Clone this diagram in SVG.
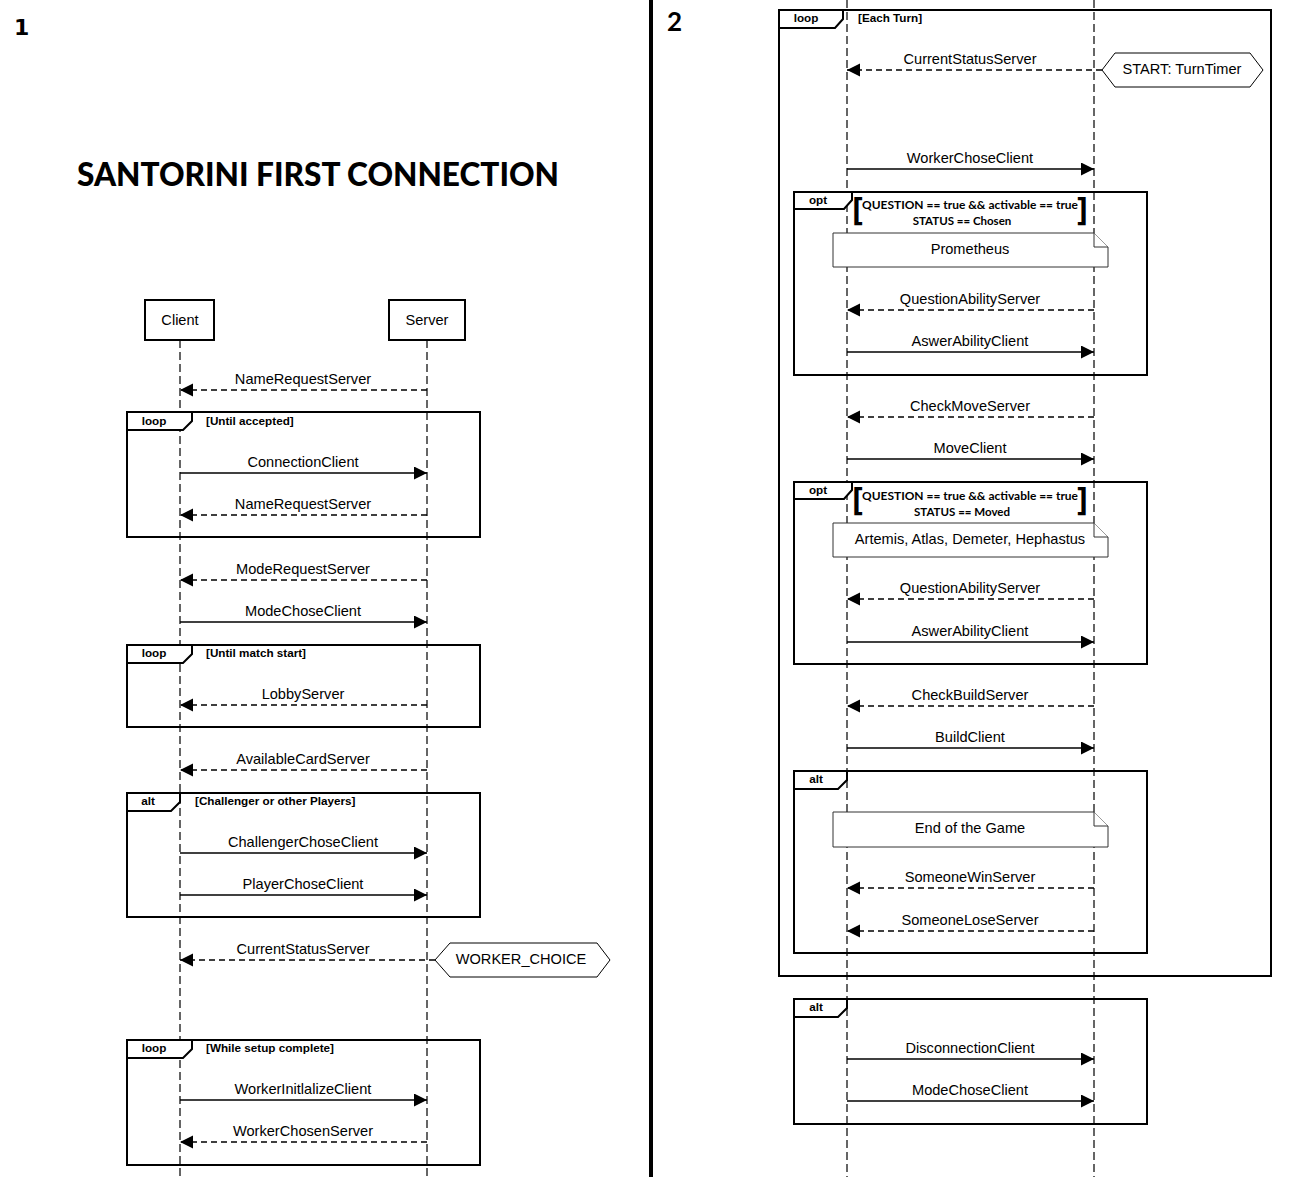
<svg xmlns="http://www.w3.org/2000/svg" width="1300" height="1177" viewBox="0 0 1300 1177">
<style>
.bg{fill:#fff}
.life{stroke:#333;stroke-width:1.5;stroke-dasharray:8 4;fill:none}
.msg{stroke:#000;stroke-width:1.3;fill:none;marker-end:url(#arr)}
.dash{stroke-dasharray:6 4}
.frame{fill:none;stroke:#000;stroke-width:2}
.tab{fill:#fff;stroke:#000;stroke-width:2}
.part{fill:#fff;stroke:#000;stroke-width:2}
.note{fill:#fff;stroke:#333;stroke-width:1}
.hex{fill:#fff;stroke:#000;stroke-width:1}
.lbl{font-family:"Liberation Sans",Arial,sans-serif;font-size:14.6px;fill:#000;text-anchor:middle}
.tl{font-family:"Liberation Sans",Arial,sans-serif;font-size:11.7px;font-weight:bold;fill:#000;text-anchor:middle}
.cond{font-family:"Liberation Sans",Arial,sans-serif;font-size:11.7px;font-weight:bold;fill:#000}
.q{font-family:Lato,"Open Sans",sans-serif;font-size:11.5px;font-weight:bold;fill:#000;text-anchor:middle}
.br{font-family:"Open Sans",sans-serif;font-size:33px;font-weight:bold;fill:#000}
</style>
<defs>
<marker id="arr" markerUnits="userSpaceOnUse" markerWidth="14" markerHeight="14" refX="13" refY="6.5" orient="auto">
<path d="M0,0 L13,6.5 L0,13 Z" fill="#000" stroke="none"/>
</marker>
</defs>
<rect class="bg" x="0" y="0" width="1300" height="1177"/>

<g id="headings">
<text x="14" y="35" font-family="DejaVu Sans,sans-serif" font-size="22" font-weight="bold">1</text>
<text x="667" y="31" font-family="Lato,'Open Sans',sans-serif" font-size="26" font-weight="bold">2</text>
<text x="77" y="186" font-family="Lato,'Open Sans',sans-serif" font-size="33" font-weight="900" textLength="482" lengthAdjust="spacingAndGlyphs">SANTORINI FIRST CONNECTION</text>
<rect id="separator" x="649" y="0" width="4" height="1177" fill="#000"/>
</g>

<g id="lifelines">
<line class="life" x1="180" y1="340" x2="180" y2="1177"/>
<line class="life" x1="427" y1="340" x2="427" y2="1177"/>
<line class="life" x1="847" y1="0" x2="847" y2="1177"/>
<line class="life" x1="1094" y1="0" x2="1094" y2="1177"/>
</g>

<g id="client">
<rect class="part" x="145" y="300" width="69" height="40"/>
<text class="lbl" x="180" y="325">Client</text>
</g>
<g id="server">
<rect class="part" x="389" y="300" width="76" height="40"/>
<text class="lbl" x="427" y="325">Server</text>
</g>

<g id="frame-loop-accepted">
<rect class="frame" x="127" y="412" width="353" height="125"/>
<path class="tab" d="M127,412 H192 V421 L183,430 H127 Z"/>
<text class="tl" x="154" y="425">loop</text>
<text class="cond" x="206" y="425">[Until accepted]</text>
</g>
<g id="frame-loop-match">
<rect class="frame" x="127" y="645" width="353" height="82"/>
<path class="tab" d="M127,645 H192 V654 L183,663 H127 Z"/>
<text class="tl" x="154" y="657">loop</text>
<text class="cond" x="206" y="657">[Until match start]</text>
</g>
<g id="frame-alt-challenger">
<rect class="frame" x="127" y="793" width="353" height="124"/>
<path class="tab" d="M127,793 H180 V802 L171,811 H127 Z"/>
<text class="tl" x="148" y="805">alt</text>
<text class="cond" x="195" y="805">[Challenger or other Players]</text>
</g>
<g id="hex-worker-choice">
<path class="hex" d="M435,960 L450,943 H597 L610,960 L597,977 H450 Z"/>
<text class="lbl" x="521" y="964">WORKER_CHOICE</text>
</g>
<g id="frame-loop-setup">
<rect class="frame" x="127" y="1040" width="353" height="125"/>
<path class="tab" d="M127,1040 H192 V1049 L183,1058 H127 Z"/>
<text class="tl" x="154" y="1052">loop</text>
<text class="cond" x="206" y="1052">[While setup complete]</text>
</g>

<g id="frame-loop-turn">
<rect class="frame" x="779" y="10" width="492" height="966"/>
<path class="tab" d="M779,10 H843 V19 L835,28 H779 Z"/>
<text class="tl" x="806" y="22">loop</text>
<text class="cond" x="858" y="22">[Each Turn]</text>
</g>
<g id="hex-turn-timer">
<path class="hex" d="M1102,70 L1115,53 H1250 L1263,70 L1250,87 H1115 Z"/>
<text class="lbl" x="1182" y="74">START: TurnTimer</text>
</g>
<g id="frame-opt-chosen">
<rect class="frame" x="794" y="192" width="353" height="183"/>
<path class="tab" d="M794,192 H852 V200 L844,209 H794 Z"/>
<text class="tl" x="818" y="204">opt</text>
<text class="br" x="852" y="220">[</text>
<text class="br" x="1088" y="220" text-anchor="end">]</text>
<text class="q" x="970" y="209" textLength="216" lengthAdjust="spacingAndGlyphs">QUESTION == true &amp;&amp; activable == true</text>
<text class="q" x="962" y="225">STATUS == Chosen</text>
</g>
<g id="note-prometheus">
<path class="note" d="M833,233 H1094 L1108,247 V267 H833 Z"/>
<path class="note" d="M1094,233 V247 H1108" fill="none"/>
<text class="lbl" x="970" y="254">Prometheus</text>
</g>
<g id="frame-opt-moved">
<rect class="frame" x="794" y="482" width="353" height="182"/>
<path class="tab" d="M794,482 H852 V490 L844,499 H794 Z"/>
<text class="tl" x="818" y="494">opt</text>
<text class="br" x="852" y="510">[</text>
<text class="br" x="1088" y="510" text-anchor="end">]</text>
<text class="q" x="970" y="500" textLength="216" lengthAdjust="spacingAndGlyphs">QUESTION == true &amp;&amp; activable == true</text>
<text class="q" x="962" y="516">STATUS == Moved</text>
</g>
<g id="note-gods">
<path class="note" d="M833,523 H1094 L1108,537 V557 H833 Z"/>
<path class="note" d="M1094,523 V537 H1108" fill="none"/>
<text class="lbl" x="970" y="544">Artemis, Atlas, Demeter, Hephastus</text>
</g>
<g id="frame-alt-end">
<rect class="frame" x="794" y="771" width="353" height="182"/>
<path class="tab" d="M794,771 H847 V780 L838,789 H794 Z"/>
<text class="tl" x="816" y="783">alt</text>
</g>
<g id="note-end">
<path class="note" d="M833,812 H1094 L1108,826 V847 H833 Z"/>
<path class="note" d="M1094,812 V826 H1108" fill="none"/>
<text class="lbl" x="970" y="833">End of the Game</text>
</g>
<g id="frame-alt-disconnect">
<rect class="frame" x="794" y="999" width="353" height="125"/>
<path class="tab" d="M794,999 H847 V1008 L838,1017 H794 Z"/>
<text class="tl" x="816" y="1011">alt</text>
</g>

<g id="connectors">
<line class="msg dash" x1="427" y1="390" x2="180" y2="390"/>
<text class="lbl" x="303" y="384">NameRequestServer</text>
<line class="msg" x1="180" y1="473" x2="427" y2="473"/>
<text class="lbl" x="303" y="467">ConnectionClient</text>
<line class="msg dash" x1="427" y1="515" x2="180" y2="515"/>
<text class="lbl" x="303" y="509">NameRequestServer</text>
<line class="msg dash" x1="427" y1="580" x2="180" y2="580"/>
<text class="lbl" x="303" y="574">ModeRequestServer</text>
<line class="msg" x1="180" y1="622" x2="427" y2="622"/>
<text class="lbl" x="303" y="616">ModeChoseClient</text>
<line class="msg dash" x1="427" y1="705" x2="180" y2="705"/>
<text class="lbl" x="303" y="699">LobbyServer</text>
<line class="msg dash" x1="427" y1="770" x2="180" y2="770"/>
<text class="lbl" x="303" y="764">AvailableCardServer</text>
<line class="msg" x1="180" y1="853" x2="427" y2="853"/>
<text class="lbl" x="303" y="847">ChallengerChoseClient</text>
<line class="msg" x1="180" y1="895" x2="427" y2="895"/>
<text class="lbl" x="303" y="889">PlayerChoseClient</text>
<line class="msg dash" x1="435" y1="960" x2="180" y2="960"/>
<text class="lbl" x="303" y="954">CurrentStatusServer</text>
<line class="msg" x1="180" y1="1100" x2="427" y2="1100"/>
<text class="lbl" x="303" y="1094">WorkerInitlalizeClient</text>
<line class="msg dash" x1="427" y1="1142" x2="180" y2="1142"/>
<text class="lbl" x="303" y="1136">WorkerChosenServer</text>

<line class="msg dash" x1="1102" y1="70" x2="847" y2="70"/>
<text class="lbl" x="970" y="64">CurrentStatusServer</text>
<line class="msg" x1="847" y1="169" x2="1094" y2="169"/>
<text class="lbl" x="970" y="163">WorkerChoseClient</text>
<line class="msg dash" x1="1094" y1="310" x2="847" y2="310"/>
<text class="lbl" x="970" y="304">QuestionAbilityServer</text>
<line class="msg" x1="847" y1="352" x2="1094" y2="352"/>
<text class="lbl" x="970" y="346">AswerAbilityClient</text>
<line class="msg dash" x1="1094" y1="417" x2="847" y2="417"/>
<text class="lbl" x="970" y="411">CheckMoveServer</text>
<line class="msg" x1="847" y1="459" x2="1094" y2="459"/>
<text class="lbl" x="970" y="453">MoveClient</text>
<line class="msg dash" x1="1094" y1="599" x2="847" y2="599"/>
<text class="lbl" x="970" y="593">QuestionAbilityServer</text>
<line class="msg" x1="847" y1="642" x2="1094" y2="642"/>
<text class="lbl" x="970" y="636">AswerAbilityClient</text>
<line class="msg dash" x1="1094" y1="706" x2="847" y2="706"/>
<text class="lbl" x="970" y="700">CheckBuildServer</text>
<line class="msg" x1="847" y1="748" x2="1094" y2="748"/>
<text class="lbl" x="970" y="742">BuildClient</text>
<line class="msg dash" x1="1094" y1="888" x2="847" y2="888"/>
<text class="lbl" x="970" y="882">SomeoneWinServer</text>
<line class="msg dash" x1="1094" y1="931" x2="847" y2="931"/>
<text class="lbl" x="970" y="925">SomeoneLoseServer</text>
<line class="msg" x1="847" y1="1059" x2="1094" y2="1059"/>
<text class="lbl" x="970" y="1053">DisconnectionClient</text>
<line class="msg" x1="847" y1="1101" x2="1094" y2="1101"/>
<text class="lbl" x="970" y="1095">ModeChoseClient</text>
</g>
</svg>
